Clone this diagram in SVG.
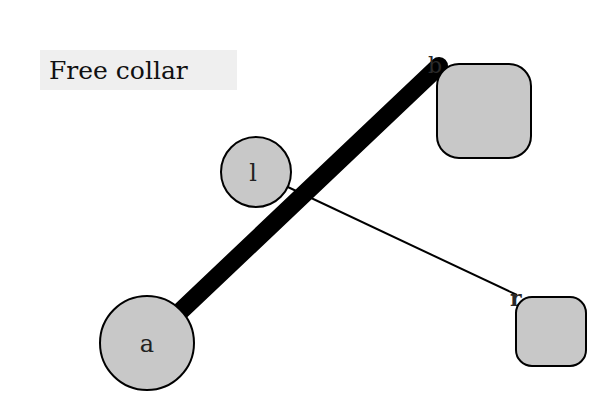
<svg xmlns="http://www.w3.org/2000/svg" width="600" height="400" viewBox="0 0 600 400">
  <style>
    .node { fill: #c8c8c8; stroke: #000; stroke-width: 2; }
    .label { font-family: "DejaVu Serif", "Liberation Serif", serif; font-size: 24px; fill: #222; text-anchor: middle; }
    .end { font-family: "DejaVu Serif", "Liberation Serif", serif; font-size: 22px; fill: #2a2a2a; }
  </style>
  <rect x="40" y="50" width="197" height="40" fill="#efefef"/>
  <text x="49" y="79" font-family="DejaVu Serif, Liberation Serif, serif" font-size="25" fill="#111">Free collar</text>

  <g id="connectors">
    <line x1="256" y1="172" x2="517" y2="295" stroke="#000" stroke-width="2"/>
    <line x1="147" y1="343" x2="439" y2="66" stroke="#000" stroke-width="18" stroke-linecap="round"/>
  </g>

  <text class="end" x="428" y="73">b</text>
  <text class="end" x="510" y="306" font-weight="bold">r</text>

  <g id="node-a">
    <circle class="node" cx="147" cy="343" r="47"/>
    <text class="label" x="147" y="352">a</text>
  </g>
  <g id="node-l">
    <circle class="node" cx="256" cy="172" r="35"/>
    <text class="label" x="253" y="181">l</text>
  </g>
  <g id="node-b">
    <rect class="node" x="437" y="64" width="94" height="94" rx="22"/>
  </g>
  <g id="node-r">
    <rect class="node" x="516" y="297" width="70" height="69" rx="16"/>
  </g>
</svg>
